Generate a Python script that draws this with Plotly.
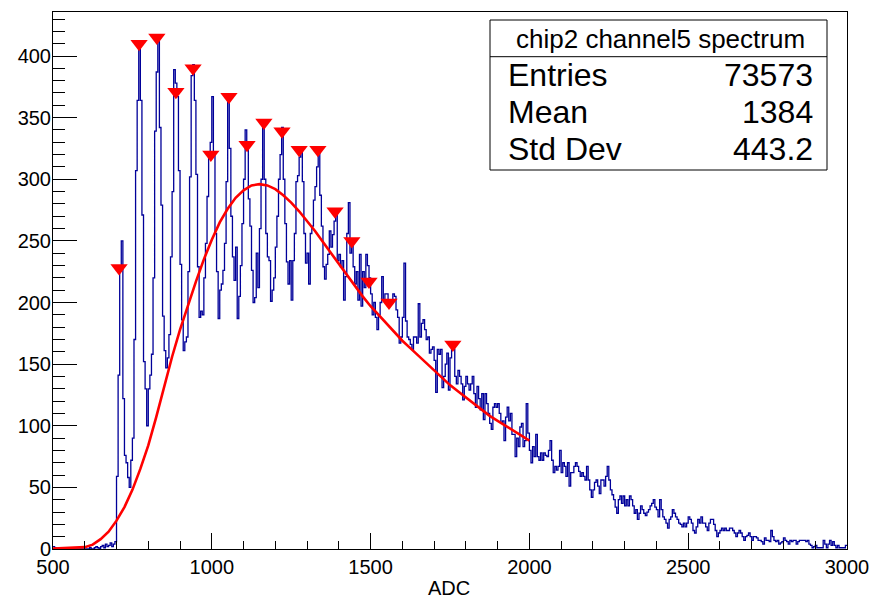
import plotly.graph_objects as go

# ---------------- data ----------------
BIN_WIDTH = 5
X_START = 500

# histogram counts, 10 bins (50 ADC) per row, from 500 to 3000
rows = [
    [2, 1, 0, 0, 0, 0, 0, 0, 0, 0],            # 500
    [0, 0, 0, 0, 0, 0, 0, 0, 0, 0],            # 550
    [0, 0, 0, 1, 0, 0, 1, 2, 1, 0],            # 600
    [2, 3, 1, 4, 2, 3, 5, 2, 4, 6],            # 650
    [59, 141, 228, 250, 122, 76, 70, 58, 50, 72],        # 700
    [90, 170, 307, 364, 410, 364, 271, 152, 130, 100],   # 750
    [130, 141, 158, 220, 339, 387, 415, 342, 279, 189],  # 800
    [161, 147, 155, 174, 237, 290, 389, 378, 367, 307],  # 850
    [231, 186, 161, 168, 172, 225, 302, 384, 393, 364],  # 900
    [304, 229, 188, 193, 190, 220, 248, 286, 317, 330],  # 950
    [367, 320, 256, 225, 187, 210, 215, 226, 248, 298],  # 1000
    [369, 325, 270, 237, 218, 245, 187, 205, 230, 264],  # 1050
    [300, 340, 325, 284, 262, 226, 200, 204, 240, 212],  # 1100
    [260, 300, 347, 300, 256, 237, 234, 201, 210, 220],  # 1150
    [245, 270, 300, 320, 342, 300, 264, 233, 215, 234],  # 1200
    [202, 234, 256, 298, 303, 318, 324, 298, 256, 232],  # 1250
    [240, 215, 256, 262, 283, 294, 310, 324, 287, 262],  # 1300
    [229, 219, 231, 239, 258, 245, 255, 266, 276, 234],  # 1350
    [239, 229, 234, 202, 221, 256, 281, 240, 250, 229],  # 1400
    [215, 225, 202, 239, 197, 225, 212, 239, 230, 220],  # 1450
    [207, 190, 200, 188, 178, 190, 200, 221, 202, 207],  # 1500
    [207, 200, 202, 202, 207, 205, 194, 188, 167, 172],  # 1550
    [188, 232, 185, 172, 170, 166, 162, 172, 172, 167],  # 1600
    [199, 172, 183, 186, 178, 170, 172, 159, 162, 164],  # 1650
    [153, 127, 162, 158, 162, 131, 140, 150, 159, 129],  # 1700
    [155, 167, 162, 140, 134, 145, 140, 134, 121, 132],  # 1750
    [140, 134, 129, 134, 140, 126, 115, 132, 122, 113],  # 1800
    [126, 105, 126, 118, 110, 102, 97, 115, 118, 115],   # 1850
    [118, 110, 102, 104, 88, 107, 115, 104, 110, 93],    # 1900
    [93, 75, 90, 83, 99, 102, 83, 88, 118, 94],          # 1950
    [80, 70, 83, 75, 93, 75, 72, 78, 72, 78],            # 2000
    [76, 75, 80, 88, 72, 62, 67, 64, 67, 80],            # 2050
    [62, 70, 67, 59, 70, 51, 62, 62, 67, 70],            # 2100
    [67, 63, 59, 62, 59, 56, 67, 56, 48, 42],            # 2150
    [48, 54, 56, 51, 45, 56, 56, 51, 59, 67],            # 2200
    [56, 48, 44, 40, 34, 29, 40, 43, 37, 43],            # 2250
    [35, 40, 35, 43, 40, 35, 29, 32, 24, 29],            # 2300
    [35, 32, 29, 27, 30, 32, 35, 37, 40, 34],            # 2350
    [32, 26, 40, 32, 26, 24, 21, 17, 24, 26],            # 2400
    [32, 29, 26, 24, 21, 20, 18, 21, 18, 21],            # 2450
    [26, 24, 21, 15, 13, 18, 24, 21, 26, 21],            # 2500
    [21, 18, 15, 21, 24, 24, 20, 15, 10, 13],            # 2550
    [15, 17, 15, 17, 15, 15, 17, 17, 15, 13],            # 2600
    [10, 13, 15, 13, 10, 7, 10, 11, 13, 10],             # 2650
    [7, 10, 10, 9, 7, 7, 6, 4, 9, 7],                    # 2700
    [7, 6, 15, 10, 7, 6, 7, 4, 5, 6],                    # 2750
    [9, 7, 6, 4, 7, 6, 7, 7, 4, 6],                      # 2800
    [7, 7, 7, 7, 6, 7, 4, 3, 1, 2],                      # 2850
    [3, 1, 1, 1, 1, 7, 4, 1, 4, 7],                      # 2900
    [3, 6, 3, 1, 3, 1, 1, 1, 1, 3],                      # 2950
]
counts = [v for r in rows for v in r]
edges = [X_START + BIN_WIDTH * i for i in range(len(counts) + 1)]

# fitted curve
fit_x = [500, 550, 600, 625, 650, 675, 700, 725, 750, 775, 800, 825, 850, 875, 900,
         925, 950, 975, 1000, 1025, 1050, 1075, 1100, 1125, 1150, 1175, 1200, 1225,
         1250, 1275, 1300, 1325, 1350, 1375, 1400, 1425, 1450, 1475, 1500, 1525, 1550,
         1575, 1600, 1625, 1650, 1675, 1700, 1725, 1750, 1775, 1800, 1825, 1850, 1875,
         1900, 1925, 1950, 1975, 2000]
fit_y = [0.3, 0.6, 1.5, 3.5, 8, 14, 23, 34, 48, 65, 84, 107, 132, 156, 178,
         198, 217, 235, 251, 265, 276, 285, 291, 295, 296, 295, 292, 287,
         281, 274, 266, 258, 249, 240, 231, 222, 213, 205, 197, 190, 183,
         176, 169, 163, 157, 151, 145, 139, 133, 128, 123, 118, 113, 108,
         104, 100, 96, 92, 88]

# found peaks
peak_x = [708, 771, 827, 887, 941, 997, 1054, 1111, 1164, 1221, 1275, 1334, 1388, 1441, 1495, 1558, 1759]
peak_y = [228, 410, 415, 371, 390, 320, 367, 328, 346, 339, 324, 324, 274, 250, 217, 200, 166]

stats_title = "chip2 channel5 spectrum"
stats_names = ["Entries", "Mean", "Std Dev"]
stats_values = ["73573", "1384", "443.2"]
x_title = "ADC"

# ---------------- figure ----------------
FONT = "Liberation Sans, Arial, Helvetica, sans-serif"

fig = go.Figure()
fig.add_trace(go.Scatter(
    x=edges, y=counts + [counts[-1]], mode="lines",
    line=dict(color="#000099", width=1.3, shape="hv"), hoverinfo="skip"))
fig.add_trace(go.Scatter(
    x=fit_x, y=fit_y, mode="lines",
    line=dict(color="#ff0000", width=2.6, shape="linear"), hoverinfo="skip"))
fig.add_trace(go.Scatter(
    x=peak_x, y=peak_y, mode="markers",
    marker=dict(symbol="triangle-down", size=15, color="#ff0000", line=dict(width=0)),
    hoverinfo="skip"))

W, H = 871, 598
L, R, T, B = 53, 847, 12, 549
PW, PH = R - L, B - T


def px(x):
    return (x - L) / PW


def py(y):
    return (B - y) / PH


axis_common = dict(
    showline=True, mirror=True, linecolor="black", linewidth=1,
    ticks="inside", tickcolor="black", tickwidth=1,
    showgrid=False, zeroline=False, automargin=False,
    tickfont=dict(family=FONT, size=20, color="black"),
)
fig.update_xaxes(range=[500, 3000], tick0=500, dtick=500, ticklen=16,
                 minor=dict(ticks="inside", ticklen=8, dtick=100, tick0=500,
                            tickcolor="black", showgrid=False),
                 **axis_common)
fig.update_yaxes(range=[0, (B - T) / 1.2325], tick0=0, dtick=50, ticklen=24,
                 ticklabelstandoff=-3,
                 minor=dict(ticks="inside", ticklen=12, dtick=10, tick0=0,
                            tickcolor="black", showgrid=False),
                 **axis_common)

shapes = [
    dict(type="rect", xref="paper", yref="paper",
         x0=px(490), x1=px(827), y0=py(170), y1=py(20),
         line=dict(color="black", width=1), fillcolor="white", layer="above"),
    dict(type="line", xref="paper", yref="paper",
         x0=px(490), x1=px(827), y0=py(56.7), y1=py(56.7),
         line=dict(color="black", width=1), layer="above"),
]

annotations = [
    dict(text=stats_title, x=px(660), y=py(39), xref="paper", yref="paper",
         xanchor="center", yanchor="middle", showarrow=False,
         font=dict(family=FONT, size=26, color="black")),
    dict(text=x_title, x=px(449), y=py(588), xref="paper", yref="paper",
         xanchor="center", yanchor="middle", showarrow=False,
         font=dict(family=FONT, size=20, color="black")),
]
row_y = [75, 112, 149]
for name, val, yy in zip(stats_names, stats_values, row_y):
    annotations.append(dict(text=name, x=px(506), y=py(yy), xref="paper", yref="paper",
                            xanchor="left", yanchor="middle", showarrow=False,
                            font=dict(family=FONT, size=32, color="black")))
    annotations.append(dict(text=val, x=px(815), y=py(yy), xref="paper", yref="paper",
                            xanchor="right", yanchor="middle", showarrow=False,
                            font=dict(family=FONT, size=32, color="black")))

fig.update_layout(
    width=W, height=H,
    margin=dict(l=L, r=W - R, t=T, b=H - B, pad=0),
    plot_bgcolor="white", paper_bgcolor="white",
    showlegend=False,
    font=dict(family=FONT, color="black"),
    shapes=shapes, annotations=annotations,
)

fig.write_html("out.html")
